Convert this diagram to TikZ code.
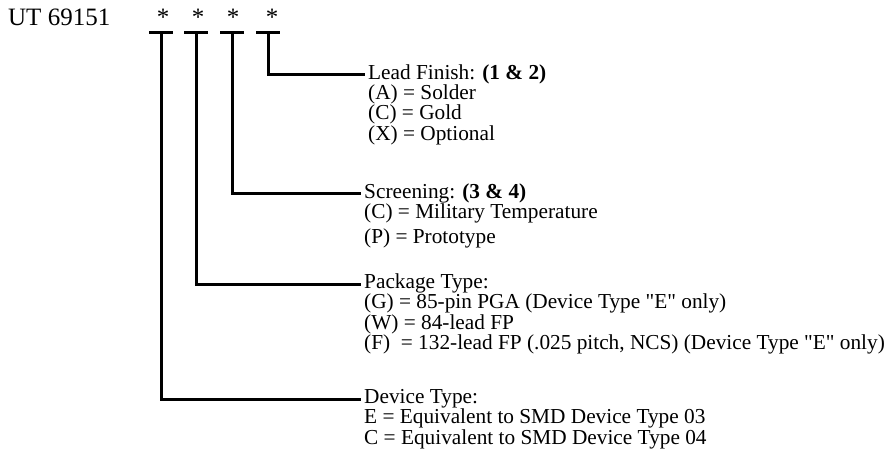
\documentclass[tikz,border=0pt]{standalone}
\usepackage{fontspec}
\setmainfont{Liberation Serif}
\usetikzlibrary{positioning}

\begin{document}
\begin{tikzpicture}[x=1pt,y=-1pt, wire/.style={line width=3pt}, field/.style={anchor=west,inner xsep=3pt,inner ysep=0pt,text height=14pt,text depth=5pt,font=\fontsize{21.3}{19.3}\selectfont}, opts/.style={anchor=north west,align=left,inner xsep=3pt,inner ysep=0pt,font=\fontsize{21.3}{19.3}\selectfont}, big/.style={inner sep=0pt,font=\fontsize{25}{25}\selectfont}]
\useasboundingbox (0,0) rectangle (893,462);
\node[big,anchor=base west] (part) at (8,26) {UT 69151};
% one star and one bar per option
\foreach \i/\sx/\bx in {1/163/161, 2/198/196, 3/233/232, 4/272/268}{
  \node[big,anchor=base] (star\i) at (\sx,26) {*};
  \coordinate (top\i) at (\bx,33);
  \draw[wire] ([xshift=-12pt]top\i) -- ([xshift=12pt]top\i);
}
\node[field] (lead) at (365,75) {Lead Finish: \textbf{(1 \& 2)}};
\node[opts,below=0pt of lead.south west,anchor=north west] (leadopt) {(A) = Solder\\(C) = Gold\\(X) = Optional};
\node[field] (screen) at (361,194) {Screening: \textbf{(3 \& 4)}};
\node[opts,below=0pt of screen.south west,anchor=north west] (screenopt) {(C) = Military Temperature\\[4.5pt](P) = Prototype};
\node[field] (pkg) at (361,284) {Package Type:};
\node[opts,below=0pt of pkg.south west,anchor=north west] (pkgopt) {(G) = 85-pin PGA (Device Type \textquotedbl E\textquotedbl{} only)\\(W) = 84-lead FP\\(F) \ = 132-lead FP (.025 pitch, NCS) (Device Type \textquotedbl E\textquotedbl{} only)};
\node[field] (dev) at (361,399) {Device Type:};
\node[opts,below=0pt of dev.south west,anchor=north west] (devopt) {E = Equivalent to SMD Device Type 03\\C = Equivalent to SMD Device Type 04};
\draw[wire] (top1) |- (dev.west);
\draw[wire] (top2) |- (pkg.west);
\draw[wire] (top3) |- (screen.west);
\draw[wire] (top4) |- (lead.west);
\end{tikzpicture}
\end{document}
